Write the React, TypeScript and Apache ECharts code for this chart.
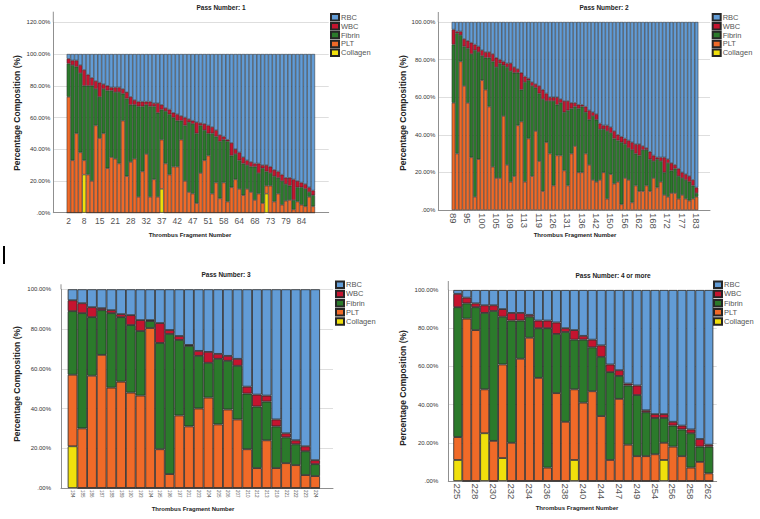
import React, { useEffect, useRef } from "react";
import * as echarts from "echarts";

const FONT = '"Liberation Sans", Arial, sans-serif';
const SERIES_NAMES = ["RBC", "WBC", "Fibrin", "PLT", "Collagen"];
const COLORS: Record<string, string> = {
  RBC: "#629cd6",
  WBC: "#c5142f",
  Fibrin: "#2b7a2b",
  PLT: "#f06a28",
  Collagen: "#f0e00c",
};
const yTickLabels = [".00%", "20.00%", "40.00%", "60.00%", "80.00%", "100.00%", "120.00%"];
const xAxisTitle = "Thrombus Fragment Number";
const yAxisTitle = "Percentage Composition (%)";

// ---------- Pass Number: 1 ----------
const p1Fragments = [2, 4, 5, 7, 8, 10, 12, 13, 15, 17, 18, 20, 21, 23, 25, 26, 28, 29, 30, 31, 32, 33, 34, 36, 37, 38, 40, 41, 42, 44, 45, 46, 47, 48, 49, 50, 51, 53, 55, 56, 58, 60, 61, 63, 64, 65, 66, 67, 68, 70, 71, 72, 73, 75, 76, 78, 79, 80, 82, 83, 84, 85, 86, 87];
const p1Collagen = [0, 0, 0, 0, 24, 0, 0, 0, 0, 0, 0, 0, 0, 0, 0, 0, 0, 0, 0, 0, 0, 0, 0, 0, 15, 0, 0, 0, 0, 0, 0, 0, 0, 0, 0, 0, 0, 0, 0, 0, 0, 0, 0, 0, 0, 0, 0, 0, 0, 0, 0, 12, 0, 0, 0, 0, 0, 0, 0, 0, 0, 0, 0, 0];
const p1PLT = [73, 33, 50, 38, 9, 24, 20, 55, 47, 50, 28, 35, 34, 31, 58, 23, 32, 34, 10, 26, 37, 10, 21, 10, 31, 31, 24, 29, 29, 46, 20, 13, 12, 6, 25, 33, 36, 12, 19, 9, 19, 7, 16, 21, 15, 11, 15, 13, 8, 12, 6, 5, 17, 7, 12, 5, 7.5, 8, 2, 7, 5, 4, 10, 4];
const p1Fibrin = [21, 60, 42, 50, 47, 56, 60, 23, 26, 28, 49, 42, 42, 45, 17, 49, 36, 34, 57, 41, 31, 57, 46, 53, 19, 33, 38, 31, 29, 12, 35, 44, 44, 44, 30, 19, 14, 38, 29, 36, 27, 38, 20, 16, 18, 20, 15, 16, 21, 13, 22, 9, 8, 16, 10, 15, 10.5, 9, 6, 9, 11, 11, 3, 7];
const p1WBC = [3, 3, 4, 5, 10, 7, 5, 5, 9, 3, 3, 2, 3, 3, 3, 4, 5, 3, 3, 3, 2, 3, 2, 6, 3, 2, 3, 3, 4, 3, 5, 2, 2, 7, 1.5, 4, 5, 4, 4, 4, 2, 1, 8, 3, 5, 4, 3, 3, 2, 6, 2, 4, 4, 4, 4, 4, 4, 5, 13, 4, 3, 3, 3, 3];
const p1RBC = [3, 4, 4, 7, 10, 13, 15, 17, 18, 19, 20, 21, 21, 21, 22, 24, 27, 29, 30, 30, 30, 30, 31, 31, 32, 34, 35, 37, 38, 39, 40, 41, 42, 43, 43.5, 44, 45, 46, 48, 51, 52, 54, 56, 60, 62, 65, 67, 68, 69, 69, 70, 70, 71, 73, 74, 76, 78, 78, 79, 80, 81, 82, 84, 86];

// ---------- Pass Number: 2 ----------
const p2Fragments = [89, 90, 92, 93, 95, 96, 98, 99, 100, 101, 103, 104, 105, 106, 107, 108, 109, 110, 111, 112, 113, 115, 116, 118, 119, 121, 123, 124, 126, 127, 129, 130, 131, 133, 134, 135, 136, 138, 139, 141, 142, 144, 146, 148, 150, 152, 153, 155, 156, 158, 159, 161, 162, 164, 165, 167, 168, 169, 170, 171, 172, 174, 175, 176, 177, 179, 180, 182, 183];
const p2PLT = [57, 30, 79, 66, 57, 28, 7, 27, 69, 64, 55, 23, 17, 17, 50, 24, 15, 18, 45, 47, 15, 38, 18, 42, 26, 10, 36, 30, 13, 29, 29, 21, 13, 30, 34, 20, 20, 30, 24, 16, 15, 16, 20, 6, 19, 14, 15, 3, 17, 16, 4, 13, 10, 10, 13, 10, 17, 12, 15, 8, 7, 9, 9, 6, 8, 6, 5, 6, 7];
const p2Fibrin = [31, 64, 14, 21, 29, 55, 78, 57, 13, 17, 26, 56, 59, 61, 27, 52, 59, 55, 28, 17, 53, 31, 48, 23, 36, 49, 22, 28, 45, 27, 28, 31, 40, 24, 21, 34, 35, 22, 24, 34, 33, 27, 23, 36, 22, 24, 22, 33, 18, 17, 28, 17, 19, 22, 19, 17, 9, 15, 11, 12, 18, 12, 13, 12, 9, 10, 10, 7, 2];
const p2WBC = [8, 1, 2, 4, 4, 6, 3, 3, 3, 3, 3, 4, 5, 2, 2, 2, 4, 3, 2, 9, 3, 1, 2, 2, 4, 5, 4, 2, 2, 4, 2, 6, 5, 3, 2, 2, 1, 3, 5, 2, 3, 3, 2, 3, 3, 4, 3, 3, 3, 4, 4, 5, 6, 2, 1, 4, 3, 1, 2, 8, 2, 4, 2, 4, 3, 3, 3, 3, 3];
const p2RBC = [4, 5, 5, 9, 10, 11, 12, 13, 15, 16, 16, 17, 19, 20, 21, 22, 22, 24, 25, 27, 29, 30, 32, 33, 34, 36, 38, 40, 40, 40, 41, 42, 42, 43, 43, 44, 44, 45, 47, 48, 49, 54, 55, 55, 56, 58, 60, 61, 62, 63, 64, 65, 65, 66, 67, 69, 71, 72, 72, 72, 73, 75, 76, 78, 80, 81, 82, 84, 88];

// ---------- Pass Number: 3 ----------
const p3Fragments = [184, 185, 186, 187, 188, 189, 190, 193, 194, 195, 196, 197, 201, 203, 204, 205, 206, 207, 210, 212, 213, 219, 221, 222, 223, 224];
const p3Collagen = [21, 0, 0, 0, 0, 0, 0, 0, 0, 0, 0, 0, 0, 0, 0, 0, 0, 0, 0, 0, 0, 0, 0, 0, 0, 0];
const p3PLT = [36, 30, 56.5, 67, 50.5, 53.5, 48, 46.5, 80.5, 19.5, 7, 36.5, 31, 40, 45.5, 32, 39.5, 34.5, 19.5, 10, 24, 10, 12.5, 11.5, 6.5, 6];
const p3Fibrin = [32, 58, 29.5, 22.5, 37.5, 32.5, 34, 32.5, 3.5, 53.5, 70.5, 38, 40.5, 26.5, 17.5, 33, 24.5, 27, 28, 31, 19.5, 21, 13, 10.5, 12, 6];
const p3WBC = [5.5, 5, 5, 1, 1.5, 1.5, 5, 5.5, 0.5, 10, 2, 2, 0.5, 2.5, 5.5, 2.5, 2.5, 3.5, 3.5, 6, 3, 3.5, 2, 2, 2.5, 2];
const p3RBC = [5.5, 7, 9, 9.5, 10.5, 12.5, 13, 15.5, 15.5, 17, 20.5, 23.5, 28, 31, 31.5, 32.5, 33.5, 35, 49, 53, 53.5, 65.5, 72.5, 76, 79, 86];

// ---------- Pass Number: 4 or more ----------
const p4Fragments = [225, 226, 228, 229, 230, 231, 232, 233, 234, 235, 236, 237, 238, 239, 240, 242, 244, 246, 247, 248, 249, 252, 254, 255, 256, 257, 258, 260, 262];
const p4Collagen = [11, 0, 0, 25, 0, 12, 0, 0, 0, 0, 0, 0, 0, 11, 0, 0, 0, 0, 0, 0, 0, 0, 0, 11, 0, 0, 0, 0, 0];
const p4PLT = [12, 85, 79, 23, 21, 49, 20, 64, 75, 54, 7, 46, 31, 37, 41, 47, 34, 11, 43, 19, 13, 13, 14, 9, 18, 13, 7, 10, 4];
const p4Fibrin = [68, 8, 12, 40, 68, 25, 64, 20, 11, 26, 73, 31, 47, 26, 33, 23, 31, 46, 12, 31, 32, 23, 19, 13, 11, 14, 18, 8, 14];
const p4WBC = [7, 3, 2, 4, 3, 4, 4, 4, 1, 4, 4, 6, 2, 5, 2, 4, 6, 4, 3, 1, 5, 1, 2, 2, 2, 2, 2, 4, 1];
const p4RBC = [2, 4, 7, 8, 8, 10, 12, 12, 13, 16, 16, 17, 20, 21, 24, 26, 29, 39, 42, 49, 50, 63, 65, 65, 69, 71, 73, 78, 81];

type Panel = {
  title: string;
  titleX: number;
  titleY: number;
  frameLeft: number;
  frameWidth: number;
  innerLeft: number;
  innerWidth: number;
  top: number;
  height: number;
  yMax: number;
  ext: number;
  cats: number[];
  data: Record<string, number[] | undefined>;
  labelInterval: number;
  rotate: number;
  xFont: number;
  xMargin: number;
  yMargin: number;
  yName: [number, number];
  xName: [number, number];
  legendLeft: number;
  legendTop: number;
  legendGap: number;
  border: number;
};

const panels: Panel[] = [
  {
    title: "Pass Number: 1", titleX: 221, titleY: 7,
    frameLeft: 53.3, frameWidth: 275.4, innerLeft: 66.7, innerWidth: 248.3,
    top: 22.3, height: 190.4, yMax: 120, ext: 10.6,
    cats: p1Fragments,
    data: { Collagen: p1Collagen, PLT: p1PLT, Fibrin: p1Fibrin, WBC: p1WBC, RBC: p1RBC },
    labelInterval: 3, rotate: 0, xFont: 8.5, xMargin: 4, yMargin: 3,
    yName: [16.7, 113], xName: [190, 235],
    legendLeft: 330, legendTop: 13, legendGap: 0.4, border: 0.5,
  },
  {
    title: "Pass Number: 2", titleX: 604, titleY: 7,
    frameLeft: 438.3, frameWidth: 271.7, innerLeft: 451.7, innerWidth: 246.6,
    top: 22, height: 188, yMax: 100, ext: 10,
    cats: p2Fragments,
    data: { PLT: p2PLT, Fibrin: p2Fibrin, WBC: p2WBC, RBC: p2RBC },
    labelInterval: 3, rotate: -90, xFont: 9.5, xMargin: 3, yMargin: 3,
    yName: [403, 113], xName: [575, 235],
    legendLeft: 711.7, legendTop: 13, legendGap: 0.4, border: 0.5,
  },
  {
    title: "Pass Number: 3", titleX: 226, titleY: 274,
    frameLeft: 61, frameWidth: 272, innerLeft: 67.7, innerWidth: 252.3,
    top: 289.3, height: 198.7, yMax: 100, ext: 5,
    cats: p3Fragments,
    data: { Collagen: p3Collagen, PLT: p3PLT, Fibrin: p3Fibrin, WBC: p3WBC, RBC: p3RBC },
    labelInterval: 0, rotate: -90, xFont: 4.5, xMargin: 2, yMargin: 10,
    yName: [16.7, 384], xName: [193, 509],
    legendLeft: 335, legendTop: 280.5, legendGap: 0.7, border: 0.8,
  },
  {
    title: "Pass Number: 4 or more", titleX: 613, titleY: 275,
    frameLeft: 448.3, frameWidth: 268.4, innerLeft: 453.3, innerWidth: 260,
    top: 290, height: 191, yMax: 100, ext: 9,
    cats: p4Fragments,
    data: { Collagen: p4Collagen, PLT: p4PLT, Fibrin: p4Fibrin, WBC: p4WBC, RBC: p4RBC },
    labelInterval: 1, rotate: -90, xFont: 9.5, xMargin: 2.5, yMargin: 10,
    yName: [403, 388], xName: [577, 508],
    legendLeft: 713, legendTop: 280.5, legendGap: 0.7, border: 0.8,
  },
];

function buildOption() {
  const grid: any[] = [];
  const xAxis: any[] = [];
  const yAxis: any[] = [];
  const series: any[] = [];
  const legend: any[] = [];
  const graphic: any[] = [];
  const stackOrder = ["Collagen", "PLT", "Fibrin", "WBC", "RBC"];

  panels.forEach((p, i) => {
    const fi = 2 * i;
    const ii = 2 * i + 1;
    grid.push({ left: p.frameLeft, top: p.top, width: p.frameWidth, height: p.height });
    grid.push({ left: p.innerLeft, top: p.top, width: p.innerWidth, height: p.height });

    xAxis.push({
      gridIndex: fi, type: "value", min: 0, max: 1,
      axisLine: { show: true, lineStyle: { color: "#8f8f8f", width: 1 } },
      axisTick: { show: false }, axisLabel: { show: false }, splitLine: { show: false },
    });
    xAxis.push({
      gridIndex: ii, type: "category", data: p.cats.map(String),
      axisLine: { show: false }, axisTick: { show: false },
      axisLabel: {
        interval: p.labelInterval, rotate: p.rotate, fontSize: p.xFont,
        color: "#555", margin: p.xMargin, fontFamily: FONT,
      },
    });
    yAxis.push({
      gridIndex: fi, type: "value", min: 0, max: p.yMax, interval: 20,
      axisLine: { show: true, lineStyle: { color: "#8f8f8f", width: 1 } },
      axisTick: { show: false },
      splitLine: { show: true, lineStyle: { color: "#dedede", width: 1 } },
      axisLabel: {
        formatter: (v: number) => yTickLabels[Math.round(v / 20)] ?? "",
        fontSize: 6, color: "#333", margin: p.yMargin, fontFamily: FONT,
      },
    });
    yAxis.push({ gridIndex: ii, type: "value", min: 0, max: p.yMax, show: false });

    stackOrder.forEach((name) => {
      const d = p.data[name];
      if (!d) return;
      series.push({
        type: "bar", name, stack: "pass" + i,
        xAxisIndex: ii, yAxisIndex: ii,
        data: d, barCategoryGap: "0%", silent: true,
        itemStyle: { color: COLORS[name], borderColor: "#262626", borderWidth: p.border },
      });
    });

    legend.push({
      data: SERIES_NAMES, orient: "vertical", left: p.legendLeft, top: p.legendTop,
      itemWidth: 8, itemHeight: 6.5, itemGap: p.legendGap, icon: "rect",
      selectedMode: false, padding: 0,
      textStyle: { fontSize: 7.5, color: "#555", fontFamily: FONT, lineHeight: 8, padding: [0, 0, 0, -3] },
    });

    graphic.push({
      type: "text", x: p.titleX, y: p.titleY,
      style: { text: p.title, fontSize: 6.5, fontWeight: "bold", fill: "#222", fontFamily: FONT, align: "center", verticalAlign: "middle" },
    });
    graphic.push({
      type: "text", x: p.yName[0], y: p.yName[1], rotation: Math.PI / 2,
      style: { text: yAxisTitle, fontSize: 8.5, fontWeight: "bold", fill: "#222", fontFamily: FONT, align: "center", verticalAlign: "middle" },
    });
    graphic.push({
      type: "text", x: p.xName[0], y: p.xName[1],
      style: { text: xAxisTitle, fontSize: 6, fontWeight: "bold", fill: "#222", fontFamily: FONT, align: "center", verticalAlign: "middle" },
    });
    graphic.push({
      type: "line",
      shape: { x1: p.frameLeft, y1: p.top - p.ext, x2: p.frameLeft, y2: p.top },
      style: { stroke: "#8f8f8f", lineWidth: 1 },
    });
  });

  graphic.push({ type: "rect", shape: { x: 3, y: 246, width: 2, height: 18 }, style: { fill: "#000" } });

  return {
    animation: false,
    backgroundColor: "#ffffff",
    textStyle: { fontFamily: FONT },
    grid, xAxis, yAxis, series, legend, graphic,
  };
}

export default function App() {
  const ref = useRef<HTMLDivElement>(null);
  useEffect(() => {
    const chart = echarts.init(ref.current!, null, { renderer: "svg" });
    chart.setOption(buildOption());
    return () => chart.dispose();
  }, []);
  return (
    <div
      ref={ref}
      style={{ position: "fixed", left: 0, top: 0, width: 760, height: 519, background: "#fff" }}
    />
  );
}
